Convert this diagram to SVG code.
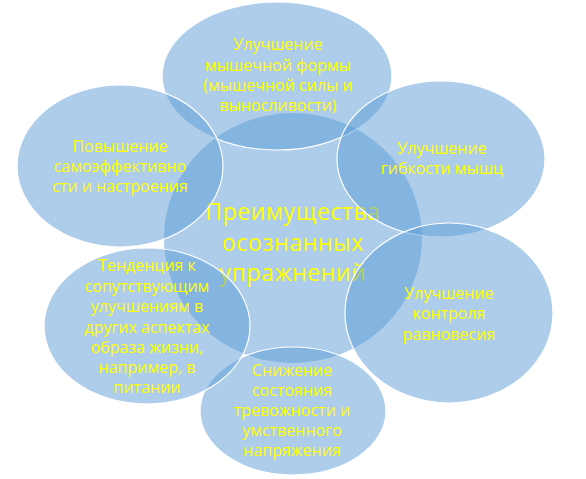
<svg xmlns="http://www.w3.org/2000/svg" width="586" height="479" viewBox="0 0 586 479">
<style>
.bub{fill:#5B9BD5;fill-opacity:0.5;stroke:#FFFFFF;stroke-width:1.2}
.ctr{fill:#5B9BD5;fill-opacity:0.5;stroke:none}
.t{font-family:"Open Sans","Noto Sans",sans-serif;font-size:16px;fill:#FFFF00;text-anchor:middle}
.tc{font-family:"Open Sans","Noto Sans",sans-serif;font-size:23px;letter-spacing:0.6px;fill:#FFFF00;text-anchor:middle}
</style>
<rect width="586" height="479" fill="#FFFFFF"/>
<g id="center">
<ellipse class="ctr" cx="293" cy="238" rx="129" ry="125"/>
<text class="tc"><tspan x="293" y="220">Преимущества</tspan><tspan x="293" y="251">осознанных</tspan><tspan x="293" y="281">упражнений</tspan></text>
</g>
<g id="top">
<ellipse class="bub" cx="277" cy="76" rx="115" ry="74"/>
<text class="t"><tspan x="278" y="50">Улучшение</tspan><tspan x="278" y="71">мышечной формы</tspan><tspan x="278" y="91">(мышечной силы и</tspan><tspan x="278" y="111">выносливости)</tspan></text>
</g>
<g id="right-top">
<ellipse class="bub" cx="441" cy="159" rx="104" ry="78"/>
<text class="t"><tspan x="442" y="154">Улучшение</tspan><tspan x="442" y="174">гибкости мышц</tspan></text>
</g>
<g id="right-bottom">
<ellipse class="bub" cx="449" cy="313" rx="104" ry="90"/>
<text class="t"><tspan x="449" y="299">Улучшение</tspan><tspan x="449" y="319">контроля</tspan><tspan x="449" y="340">равновесия</tspan></text>
</g>
<g id="bottom">
<ellipse class="bub" cx="293" cy="411" rx="93" ry="64"/>
<text class="t"><tspan x="292" y="376">Снижение</tspan><tspan x="292" y="396">состояния</tspan><tspan x="292" y="416">тревожности и</tspan><tspan x="292" y="436">умственного</tspan><tspan x="292" y="456">напряжения</tspan></text>
</g>
<g id="left-bottom">
<ellipse class="bub" cx="147" cy="326" rx="103" ry="78"/>
<text class="t"><tspan x="147" y="271">Тенденция к</tspan><tspan x="147" y="292">сопутствующим</tspan><tspan x="147" y="312">улучшениям в</tspan><tspan x="147" y="333">других аспектах</tspan><tspan x="147" y="353">образа жизни,</tspan><tspan x="147" y="373">например, в</tspan><tspan x="147" y="393">питании</tspan></text>
</g>
<g id="left-top">
<ellipse class="bub" cx="120" cy="166" rx="103" ry="81"/>
<text class="t"><tspan x="120" y="152">Повышение</tspan><tspan x="120" y="172">самоэффективно</tspan><tspan x="120" y="192">сти и настроения</tspan></text>
</g>
<g id="connectors"></g>
</svg>
